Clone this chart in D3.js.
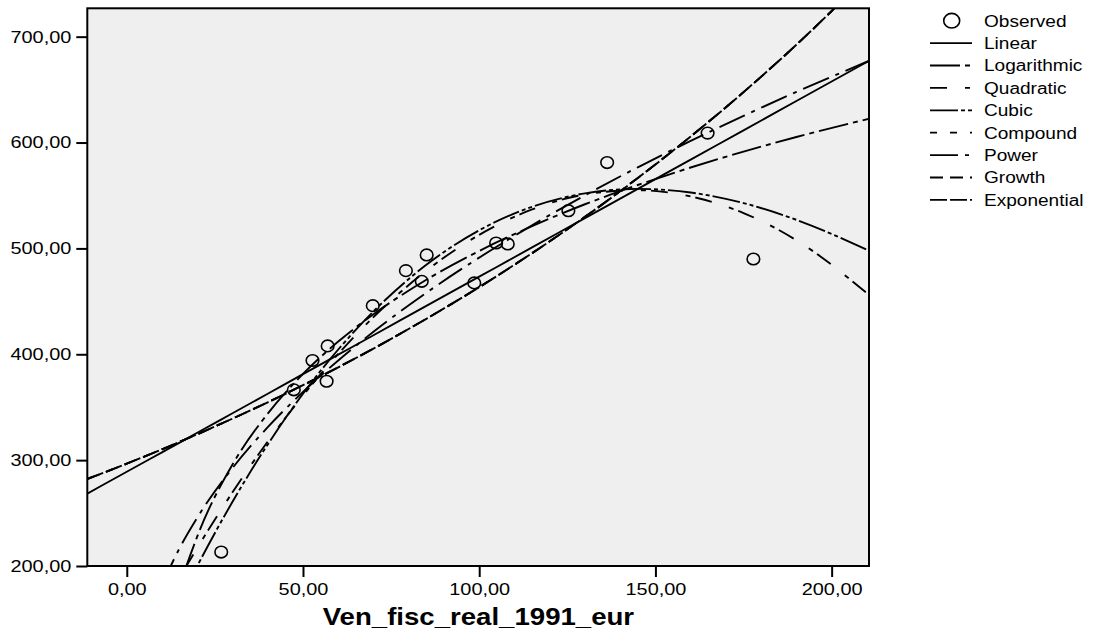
<!DOCTYPE html>
<html>
<head>
<meta charset="utf-8">
<script src="https://cdn.jsdelivr.net/npm/d3@7"></script>
<style>
  html, body { margin: 0; padding: 0; background: #ffffff; }
  svg { display: block; font-family: "Liberation Sans", Arial, Helvetica, sans-serif; }
</style>
</head>
<body>
<svg id="chart" width="1093" height="630"></svg>
<script>
// observed cases
const obsX = [26.8, 47.4, 52.7, 57.0, 56.7, 69.8, 79.2, 83.7, 85.1, 98.6, 104.8, 108.1, 125.3, 136.3, 164.8, 177.8];
const obsY = [213.2, 366.4, 394.1, 407.9, 374.5, 445.9, 479.0, 468.9, 493.8, 467.4, 505.1, 504.2, 535.6, 581.1, 608.9, 490.0];

// fitted curves, read along the x positions below (null = off the chart)
const fitX = [-11.2, 0, 10, 15, 20, 30, 40, 50, 60, 70, 85, 100, 115, 130, 145, 160, 175, 190, 211];
const linearY = [268.4, 289.0, 307.4, 316.6, 325.9, 344.3, 362.7, 381.2, 399.6, 418.0, 445.7, 473.3, 500.9, 528.6, 556.2, 583.9, 611.5, 639.2, 677.9];
const logY = [null, null, 111.8, 179.7, 227.9, 295.8, 344.0, 381.4, 412.0, 437.8, 470.4, 497.6, 521.0, 541.7, 559.9, 576.4, 591.4, 605.2, 622.8];
const quadY = [null, null, 160.3, 189.3, 217.1, 269.6, 317.6, 361.1, 400.3, 435.1, 478.9, 512.8, 536.8, 550.9, 555.0, 549.1, 533.4, 507.7, 455.0];
const cubicY = [null, null, 132.5, 167.1, 200.0, 260.7, 314.8, 362.7, 404.5, 440.5, 484.5, 517.1, 539.3, 552.0, 556.2, 552.8, 542.8, 527.0, 497.2];
const compoundY = [282.2, 296.7, 310.2, 317.2, 324.4, 339.2, 354.6, 370.8, 387.7, 405.4, 433.5, 463.4, 495.5, 529.8, 566.5, 605.7, 647.6, 692.4, 760.4];
const powerY = [null, null, 182.3, 217.0, 245.7, 292.5, 331.1, 364.4, 394.2, 421.3, 458.1, 491.3, 521.8, 550.1, 576.6, 601.5, 625.2, 647.8, 677.7];
const growthY = [282.2, 296.7, 310.2, 317.2, 324.4, 339.2, 354.6, 370.8, 387.7, 405.4, 433.5, 463.4, 495.5, 529.8, 566.5, 605.7, 647.6, 692.4, 760.4];
const exponentialY = [282.2, 296.7, 310.2, 317.2, 324.4, 339.2, 354.6, 370.8, 387.7, 405.4, 433.5, 463.4, 495.5, 529.8, 566.5, 605.7, 647.6, 692.4, 760.4];

const seriesNames = ["Linear", "Logarithmic", "Quadratic", "Cubic", "Compound", "Power", "Growth", "Exponential"];
const seriesValues = [linearY, logY, quadY, cubicY, compoundY, powerY, growthY, exponentialY];

const xTicks = [0, 50, 100, 150, 200];
const yTicks = [200, 300, 400, 500, 600, 700];
const xTitle = "Ven_fisc_real_1991_eur";

const dashes = {
  Linear: null,
  Logarithmic: "30 5 5 5",
  Quadratic: "17 18 5 5",
  Cubic: "28 3 4 3 4 3",
  Compound: "7 13",
  Power: "28 7 4 7",
  Growth: "13 7",
  Exponential: "17 3",
};

const svg = d3.select("#chart");
const plotLeft = 87.3;
const plotTop = 8.3;
const plotRight = 869;
const plotBottom = 566;
const textStretch = 1.17;

const x = d3.scaleLinear().domain([-11.2, 210.6]).range([plotLeft, plotRight]);
const y = d3.scaleLinear().domain([200, 726.8]).range([plotBottom, plotTop]);
const fmt = (d) => d3.format(".2f")(d).replace(".", ",");

svg.append("defs").append("clipPath").attr("id", "plot-clip")
  .append("rect")
  .attr("x", plotLeft).attr("y", plotTop)
  .attr("width", plotRight - plotLeft).attr("height", plotBottom - plotTop);

svg.append("rect")
  .attr("x", plotLeft).attr("y", plotTop)
  .attr("width", plotRight - plotLeft).attr("height", plotBottom - plotTop)
  .attr("fill", "#efefef");

const plot = svg.append("g").attr("clip-path", "url(#plot-clip)");

const line = d3.line()
  .defined((d) => d[1] != null)
  .x((d) => x(d[0]))
  .y((d) => y(d[1]))
  .curve(d3.curveMonotoneX);

seriesNames.forEach((name, i) => {
  const pts = fitX.map((v, j) => [v, seriesValues[i][j]]);
  plot.append("path")
    .attr("d", line(pts))
    .attr("fill", "none")
    .attr("stroke", "#000")
    .attr("stroke-width", 1.9)
    .attr("stroke-dasharray", dashes[name]);
});

plot.append("g")
  .selectAll("ellipse")
  .data(obsX.map((v, i) => [v, obsY[i]]))
  .join("ellipse")
  .attr("cx", (d) => x(d[0]))
  .attr("cy", (d) => y(d[1]))
  .attr("rx", 6.3)
  .attr("ry", 5.8)
  .attr("fill", "none")
  .attr("stroke", "#000")
  .attr("stroke-width", 1.6);

svg.append("rect")
  .attr("x", plotLeft).attr("y", plotTop)
  .attr("width", plotRight - plotLeft).attr("height", plotBottom - plotTop)
  .attr("fill", "none")
  .attr("stroke", "#000")
  .attr("stroke-width", 2);

const yAxis = svg.append("g")
  .attr("transform", `translate(${plotLeft},0)`)
  .call(d3.axisLeft(y).tickValues(yTicks).tickFormat(fmt).tickSize(11).tickPadding(5));
const xAxis = svg.append("g")
  .attr("transform", `translate(0,${plotBottom})`)
  .call(d3.axisBottom(x).tickValues(xTicks).tickFormat(fmt).tickSize(11).tickPadding(6));

[yAxis, xAxis].forEach((ax) => {
  ax.select(".domain").remove();
  ax.selectAll("line").attr("stroke", "#000").attr("stroke-width", 2);
  ax.selectAll("text")
    .attr("fill", "#000")
    .style("font-family", "'Liberation Sans', Arial, sans-serif")
    .style("font-size", "17px");
});

yAxis.selectAll("text")
  .attr("x", -16 / textStretch)
  .attr("transform", `scale(${textStretch},1)`);
xAxis.selectAll("text")
  .attr("transform", `scale(${textStretch},1)`);

svg.append("text")
  .attr("transform", `translate(478.4,625) scale(1.2,1)`)
  .attr("text-anchor", "middle")
  .style("font-size", "23px")
  .style("font-weight", "bold")
  .text(xTitle);

// legend
const legendRows = ["Observed"].concat(seriesNames);
const legend = svg.append("g");
legendRows.forEach((name, i) => {
  const rowY = 20.7 + i * 22.4;
  if (name === "Observed") {
    legend.append("ellipse")
      .attr("cx", 951.7).attr("cy", rowY)
      .attr("rx", 8).attr("ry", 7.3)
      .attr("fill", "none").attr("stroke", "#000").attr("stroke-width", 1.6);
  } else {
    legend.append("line")
      .attr("x1", 930).attr("x2", 972)
      .attr("y1", rowY).attr("y2", rowY)
      .attr("stroke", "#000").attr("stroke-width", 1.8)
      .attr("stroke-dasharray", dashes[name]);
  }
  legend.append("text")
    .attr("transform", `translate(984,${rowY + 5.8}) scale(1.19,1)`)
    .style("font-size", "16px")
    .text(name);
});
</script>
</body>
</html>
